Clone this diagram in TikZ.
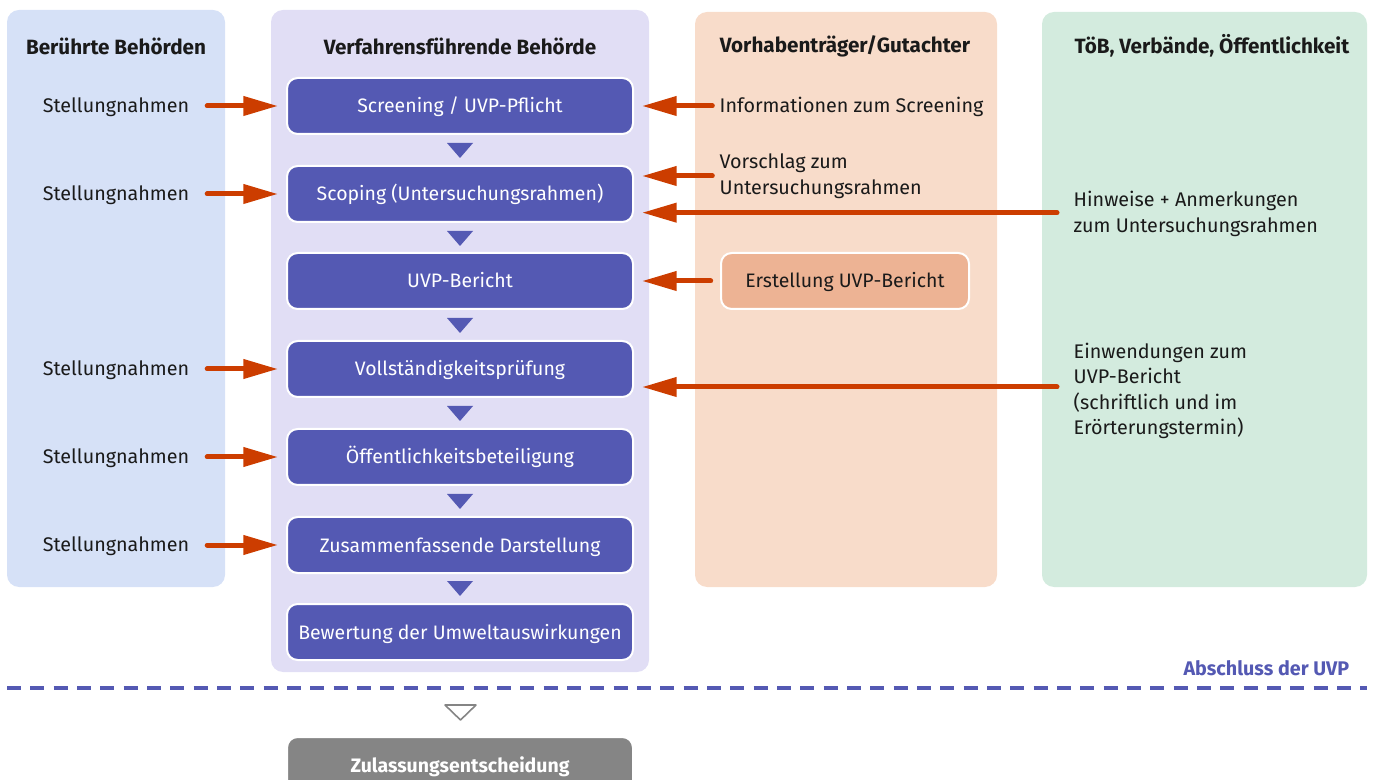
\documentclass[tikz,border=0pt]{standalone}
\usepackage{fontspec}
\setmainfont{Fira Sans}
\usetikzlibrary{arrows.meta,positioning}
\definecolor{lanblue}{HTML}{D6E1F7}
\definecolor{lanlav}{HTML}{E1DEF5}
\definecolor{lanpeach}{HTML}{F8DCCA}
\definecolor{langreen}{HTML}{D3EBDE}
\definecolor{procblue}{HTML}{5459B3}
\definecolor{flowred}{HTML}{CC3D00}
\definecolor{creapeach}{HTML}{EDB394}
\definecolor{decgray}{HTML}{858585}
\definecolor{txtdark}{HTML}{1A1A1A}
\tikzset{
  lane/.style={rounded corners=9pt},
  head/.style={font=\fontsize{15.5}{18}\selectfont\bfseries,text=txtdark},
  proc/.style={rectangle,rounded corners=8pt,fill=procblue,draw=white,line width=1.5pt,
    minimum width=259.5pt,minimum height=42pt,text=white,font=\fontsize{14.6}{18}\selectfont,
    text height=12pt,text depth=1.5pt},
  plain/.style={text=txtdark,font=\fontsize{14.8}{19.2}\selectfont,align=left},
  flow/.style={draw=flowred,line width=3.75pt,line cap=round,-{Triangle[length=26pt,width=14pt]}}
}
\begin{document}
\begin{tikzpicture}[x=0.75pt,y=-0.75pt]
\useasboundingbox (0,0) rectangle (1375,780);
% lanes
\fill[lane,lanblue] (7,10) rectangle (225,587);
\fill[lane,lanlav] (271,10) rectangle (649,672);
\fill[lane,lanpeach] (695,12) rectangle (997,587);
\fill[lane,langreen] (1042,12) rectangle (1367,587);
\node[head] (h1) at (116,46) {Berührte Behörden};
\node[head] (h2) at (460,46) {Verfahrensführende Behörde};
\node[head] (h3) at (845,46) {Vorhabenträger/Gutachter};
\node[head] (h4) at (1212,46) {TöB, Verbände, Öffentlichkeit};
% process
\node[proc] (s1) at (460,106) {Screening / UVP-Pflicht};
\node[proc] (s2) at (460,194) {Scoping (Untersuchungsrahmen)};
\node[proc] (s3) at (460,281) {UVP-Bericht};
\node[proc] (s4) at (460,369) {Vollständigkeitsprüfung};
\node[proc] (s5) at (460,457) {Öffentlichkeitsbeteiligung};
\node[proc] (s6) at (460,545) {Zusammenfassende Darstellung};
\node[proc] (s7) at (460,632) {Bewertung der Umweltauswirkungen};
\fill[procblue] (447,143) -- (473,143) -- (460,158) -- cycle;
\fill[procblue] (447,231) -- (473,231) -- (460,246) -- cycle;
\fill[procblue] (447,318) -- (473,318) -- (460,333) -- cycle;
\fill[procblue] (447,406) -- (473,406) -- (460,421) -- cycle;
\fill[procblue] (447,494) -- (473,494) -- (460,509) -- cycle;
\fill[procblue] (447,581) -- (473,581) -- (460,596) -- cycle;
% left side
\node[plain] (st1) at (116,107) {Stellungnahmen};
\node[plain] (st2) at (116,195) {Stellungnahmen};
\node[plain] (st4) at (116,370) {Stellungnahmen};
\node[plain] (st5) at (116,458) {Stellungnahmen};
\node[plain] (st6) at (116,546) {Stellungnahmen};
\draw[flow,shorten <=10pt,shorten >=6pt] (st1.east |- s1) -- (s1);
\draw[flow,shorten <=10pt,shorten >=6pt] (st2.east |- s2) -- (s2);
\draw[flow,shorten <=10pt,shorten >=6pt] (st4.east |- s4) -- (s4);
\draw[flow,shorten <=10pt,shorten >=6pt] (st5.east |- s5) -- (s5);
\draw[flow,shorten <=10pt,shorten >=6pt] (st6.east |- s6) -- (s6);
% right side
\node[plain,anchor=west] (inf) at (715,107) {Informationen zum Screening};
\node[plain,anchor=west] (vor) at (715,176) {Vorschlag zum\\Untersuchungsrahmen};
\node[rectangle,rounded corners=8pt,fill=creapeach,draw=white,line width=1.5pt,minimum width=186pt,
  minimum height=42pt,text=txtdark,font=\fontsize{14.6}{18}\selectfont,text height=12pt,text depth=1.5pt] (crea) at (845,281) {Erstellung UVP-Bericht};
\node[plain,anchor=west] (hin) at (1069,214) {Hinweise + Anmerkungen\\zum Untersuchungsrahmen};
\node[plain,anchor=west] (ein) at (1069,391) {Einwendungen zum\\UVP-Bericht\\(schriftlich und im\\Erörterungstermin)};
\draw[flow,shorten <=2pt,shorten >=6pt] (inf.west |- s1) -- (s1);
\draw[flow,shorten <=2pt,shorten >=6pt] (vor.west) -- (vor.west -| s2.east);
\draw[flow,shorten <=9pt,shorten >=6pt] ([yshift=1pt]hin.west) -- ([yshift=1pt]hin.west -| s2.east);
\draw[flow,shorten <=7pt,shorten >=6pt] (crea) -- (s3);
\draw[flow,shorten <=9pt,shorten >=6pt] ([yshift=3pt]ein.west) -- ([yshift=3pt]ein.west -| s4.east);
% end of UVP
\draw[procblue,line width=3pt,dash pattern=on 10.5pt off 7pt] (7,688) -- (1367,688);
\node[anchor=east,text=procblue,font=\fontsize{14.8}{17}\selectfont\bfseries] (abs) at (1354,668) {Abschluss der UVP};
\draw[decgray,line width=1.2pt,line join=round] (445,705) -- (476,705) -- (460.5,720) -- cycle;
\node[rectangle,rounded corners=8pt,fill=decgray,draw=white,line width=1.5pt,minimum width=259.5pt,
  minimum height=42pt,text=white,font=\fontsize{14.6}{18}\selectfont\bfseries,text height=12pt,text depth=1.5pt] (zul) at (460,765) {Zulassungsentscheidung};
\end{tikzpicture}
\end{document}
